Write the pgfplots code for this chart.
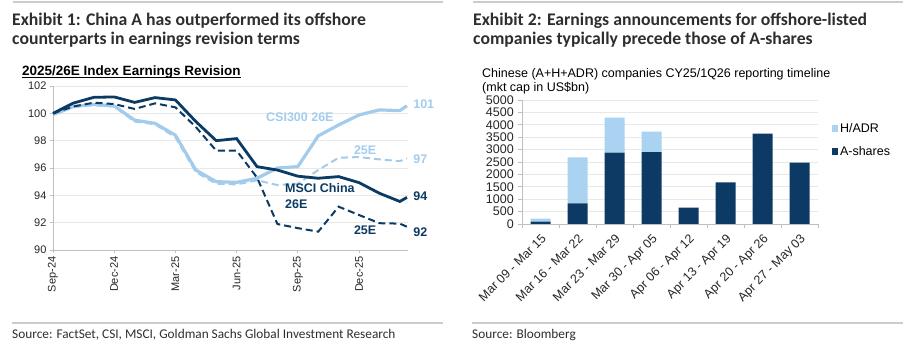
\documentclass[border=0pt]{standalone}
\usepackage{pgfplots}
\pgfplotsset{compat=1.18}
\usepackage{fontspec}
\setmainfont{Liberation Sans}
\newfontfamily\gsfont{Carlito}
\definecolor{navy}{HTML}{0B3A62}
\definecolor{lblue}{HTML}{A3CCEC}
\definecolor{barlight}{HTML}{A9D3F0}
\definecolor{bardark}{HTML}{0D3A64}
\definecolor{gridc}{HTML}{E8E8E8}
\definecolor{axc}{HTML}{BFBFBF}
\definecolor{rulec}{HTML}{CCCCCC}
\definecolor{txt}{HTML}{2E2E2E}
\begin{document}
\begin{tikzpicture}[x=1pt,y=1pt]
\useasboundingbox (0pt,0pt) rectangle (923pt,353pt);
% rules
\draw[rulec, line width=2pt] (13pt,351.3pt) -- (443pt,351.3pt);
\draw[rulec, line width=2pt] (473pt,351.3pt) -- (903pt,351.3pt);
\draw[rulec, line width=2pt] (12pt,30.3pt) -- (443pt,30.3pt);
\draw[rulec, line width=2pt] (472pt,30.3pt) -- (903pt,30.3pt);
% titles
\node[anchor=base west, inner sep=0pt, font=\gsfont\bfseries\fontsize{17.7}{20}\selectfont, text=txt] at (12pt,327pt) {Exhibit 1: China A has outperformed its offshore};
\node[anchor=base west, inner sep=0pt, font=\gsfont\bfseries\fontsize{17.7}{20}\selectfont, text=txt] at (12pt,308pt) {counterparts in earnings revision terms};
\node[anchor=base west, inner sep=0pt, font=\gsfont\bfseries\fontsize{17.7}{20}\selectfont, text=txt] at (473pt,327pt) {Exhibit 2: Earnings announcements for offshore-listed};
\node[anchor=base west, inner sep=0pt, font=\gsfont\bfseries\fontsize{17.7}{20}\selectfont, text=txt] at (473pt,308pt) {companies typically precede those of A-shares};
\node[anchor=base west, inner sep=0pt, font=\gsfont\fontsize{13.3}{15}\selectfont, text=txt] at (12pt,14pt) {Source: FactSet, CSI, MSCI, Goldman Sachs Global Investment Research};
\node[anchor=base west, inner sep=0pt, font=\gsfont\fontsize{13.3}{15}\selectfont, text=txt] at (472pt,14pt) {Source: Bloomberg};
% subtitle left
\node[anchor=base west, inner sep=0pt, font=\bfseries\fontsize{13.5}{15}\selectfont] (sub) at (22pt,277.5pt) {2025/26E Index Earnings Revision};
\draw[line width=1.1pt] ([yshift=-2pt]sub.base west) -- ([yshift=-2pt]sub.base east);
% subtitle right
\node[anchor=base west, inner sep=0pt, font=\fontsize{12.5}{14}\selectfont] at (482pt,275.7pt) {Chinese (A+H+ADR) companies CY25/1Q26 reporting timeline};
\node[anchor=base west, inner sep=0pt, font=\fontsize{12.5}{14}\selectfont] at (482pt,261.5pt) {(mkt cap in US\$bn)};

% ---------------- left chart
\begin{axis}[
  at={(53pt,103pt)}, anchor=south west, scale only axis, width=355pt, height=164pt,
  xmin=0, xmax=17.4, ymin=90, ymax=102,
  ytick={90,92,...,102},
  xtick={0,3,6,9,12,15}, xticklabels={Sep-24,Dec-24,Mar-25,Jun-25,Sep-25,Dec-25},
  axis x line*=bottom, axis y line*=left,
  axis line style={axc, line width=0.8pt},
  ymajorgrids, grid style={gridc, line width=0.8pt},
  tick style={axc, line width=0.8pt}, tick align=outside, major tick length=3pt,
  ticklabel style={font=\fontsize{11}{12}\selectfont, text=black!85},
  xticklabel style={rotate=90, anchor=east},
  /pgf/number format/assume math mode=true,
  clip=false,
]
\addplot[lblue, line width=3.2pt] coordinates {
(0,99.9) (1,100.5) (2,100.65) (3,100.54) (4,99.5) (5,99.27) (6,98.4) (7,95.85) (8,95.0) (9,94.95) (10,95.25) (11,96.0) (12,96.1) (13,98.35) (14,99.15) (15,99.88) (16,100.25) (17,100.2) (17.35,100.55)};
\addplot[lblue, line width=2pt, dash pattern=on 7pt off 4pt] coordinates {
(0,99.9) (1,100.45) (2,100.6) (3,100.5) (4,99.4) (5,99.2) (6,98.25) (7,95.7) (8,94.85) (9,94.8) (10,95.1) (11,94.75) (12,94.85) (13,95.85) (14,96.75) (15,96.8) (16,96.63) (17,96.5) (17.35,96.7)};
\addplot[navy, line width=2.8pt] coordinates {
(0,100.0) (1,100.75) (2,101.17) (3,101.2) (4,100.8) (5,101.15) (6,100.98) (7,99.4) (8,98.0) (9,98.15) (10,96.1) (11,95.85) (12,95.4) (13,95.25) (14,95.37) (15,94.93) (16,94.15) (17,93.55) (17.35,93.85)};
\addplot[navy, line width=2pt, dash pattern=on 7pt off 4pt] coordinates {
(0,100.0) (1,100.5) (2,100.78) (3,100.68) (4,100.32) (5,100.73) (6,100.44) (7,99.0) (8,97.27) (9,97.27) (10,95.3) (11,91.9) (12,91.6) (13,91.34) (14,93.17) (15,92.56) (16,91.96) (17,91.93) (17.35,91.7)};
\node[font=\bfseries\fontsize{12.5}{14}\selectfont, text=lblue] at (axis cs:12.1,99.73) {CSI300 26E};
\node[font=\bfseries\fontsize{12.5}{14}\selectfont, text=lblue] at (axis cs:15.3,97.3) {25E};
\node[font=\bfseries\fontsize{12.5}{16}\selectfont, text=navy, align=left, anchor=west, inner sep=0pt] at (axis cs:11.37,93.95) {MSCI China\\26E};
\node[font=\bfseries\fontsize{12.5}{14}\selectfont, text=navy] at (axis cs:15.3,91.47) {25E};
\node[font=\bfseries\fontsize{12.5}{14}\selectfont, text=lblue, anchor=west, inner sep=0pt] at (axis cs:17.65,100.68) {101};
\node[font=\bfseries\fontsize{12.5}{14}\selectfont, text=lblue, anchor=west, inner sep=0pt] at (axis cs:17.65,96.66) {97};
\node[font=\bfseries\fontsize{12.5}{14}\selectfont, text=navy, anchor=west, inner sep=0pt] at (axis cs:17.65,93.95) {94};
\node[font=\bfseries\fontsize{12.5}{14}\selectfont, text=navy, anchor=west, inner sep=0pt] at (axis cs:17.65,91.32) {92};
\end{axis}

% ---------------- right chart
\begin{axis}[
  at={(522pt,129pt)}, anchor=south west, scale only axis, width=296pt, height=124pt,
  ybar stacked, bar width=20pt,
  xmin=-0.5, xmax=7.5, ymin=0, ymax=5000,
  ytick={0,500,...,5000},
  xtick={0,...,7},
  xticklabels={Mar 09 - Mar 15,Mar 16 - Mar 22,Mar 23 - Mar 29,Mar 30 - Apr 05,Apr 06 - Apr 12,Apr 13 - Apr 19,Apr 20 - Apr 26,Apr 27 - May 03},
  minor xtick={-0.5,0.5,...,7.5},
  axis x line*=bottom, axis y line*=left,
  axis line style={axc, line width=0.8pt},
  ymajorgrids, grid style={gridc, line width=0.8pt},
  major x tick style={draw=none},
  minor x tick style={axc, line width=0.8pt},
  ytick style={axc, line width=0.8pt},
  tick align=outside, major tick length=4pt, minor tick length=4pt,
  ticklabel style={font=\fontsize{12.5}{13}\selectfont, text=black!85},
  yticklabel style={inner sep=1pt, xshift=-3pt},
  xticklabel style={rotate=45, anchor=north east},
  /pgf/number format/assume math mode=true,
  /pgf/number format/1000 sep={},
  scaled y ticks=false,
  legend style={at={(1.045,0.83)}, anchor=north west, draw=none, fill=none, font=\fontsize{12.5}{14}\selectfont, row sep=8.5pt, inner sep=0pt},
  legend cell align=left,
  reverse legend,
  clip=false,
]
\addplot[fill=bardark, draw=none, legend image code/.code={\fill[bardark] (0pt,-3.2pt) rectangle (6.5pt,3.2pt);}] coordinates {(0,100) (1,833) (2,2876) (3,2903) (4,659) (5,1680) (6,3641) (7,2473)};
\addlegendentry{A-shares}
\addplot[fill=barlight, draw=none, legend image code/.code={\fill[barlight] (0pt,-3.2pt) rectangle (6.5pt,3.2pt);}] coordinates {(0,115) (1,1855) (2,1412) (3,820) (4,0) (5,0) (6,0) (7,0)};
\addlegendentry{H/ADR}
\end{axis}
\end{tikzpicture}
\end{document}
